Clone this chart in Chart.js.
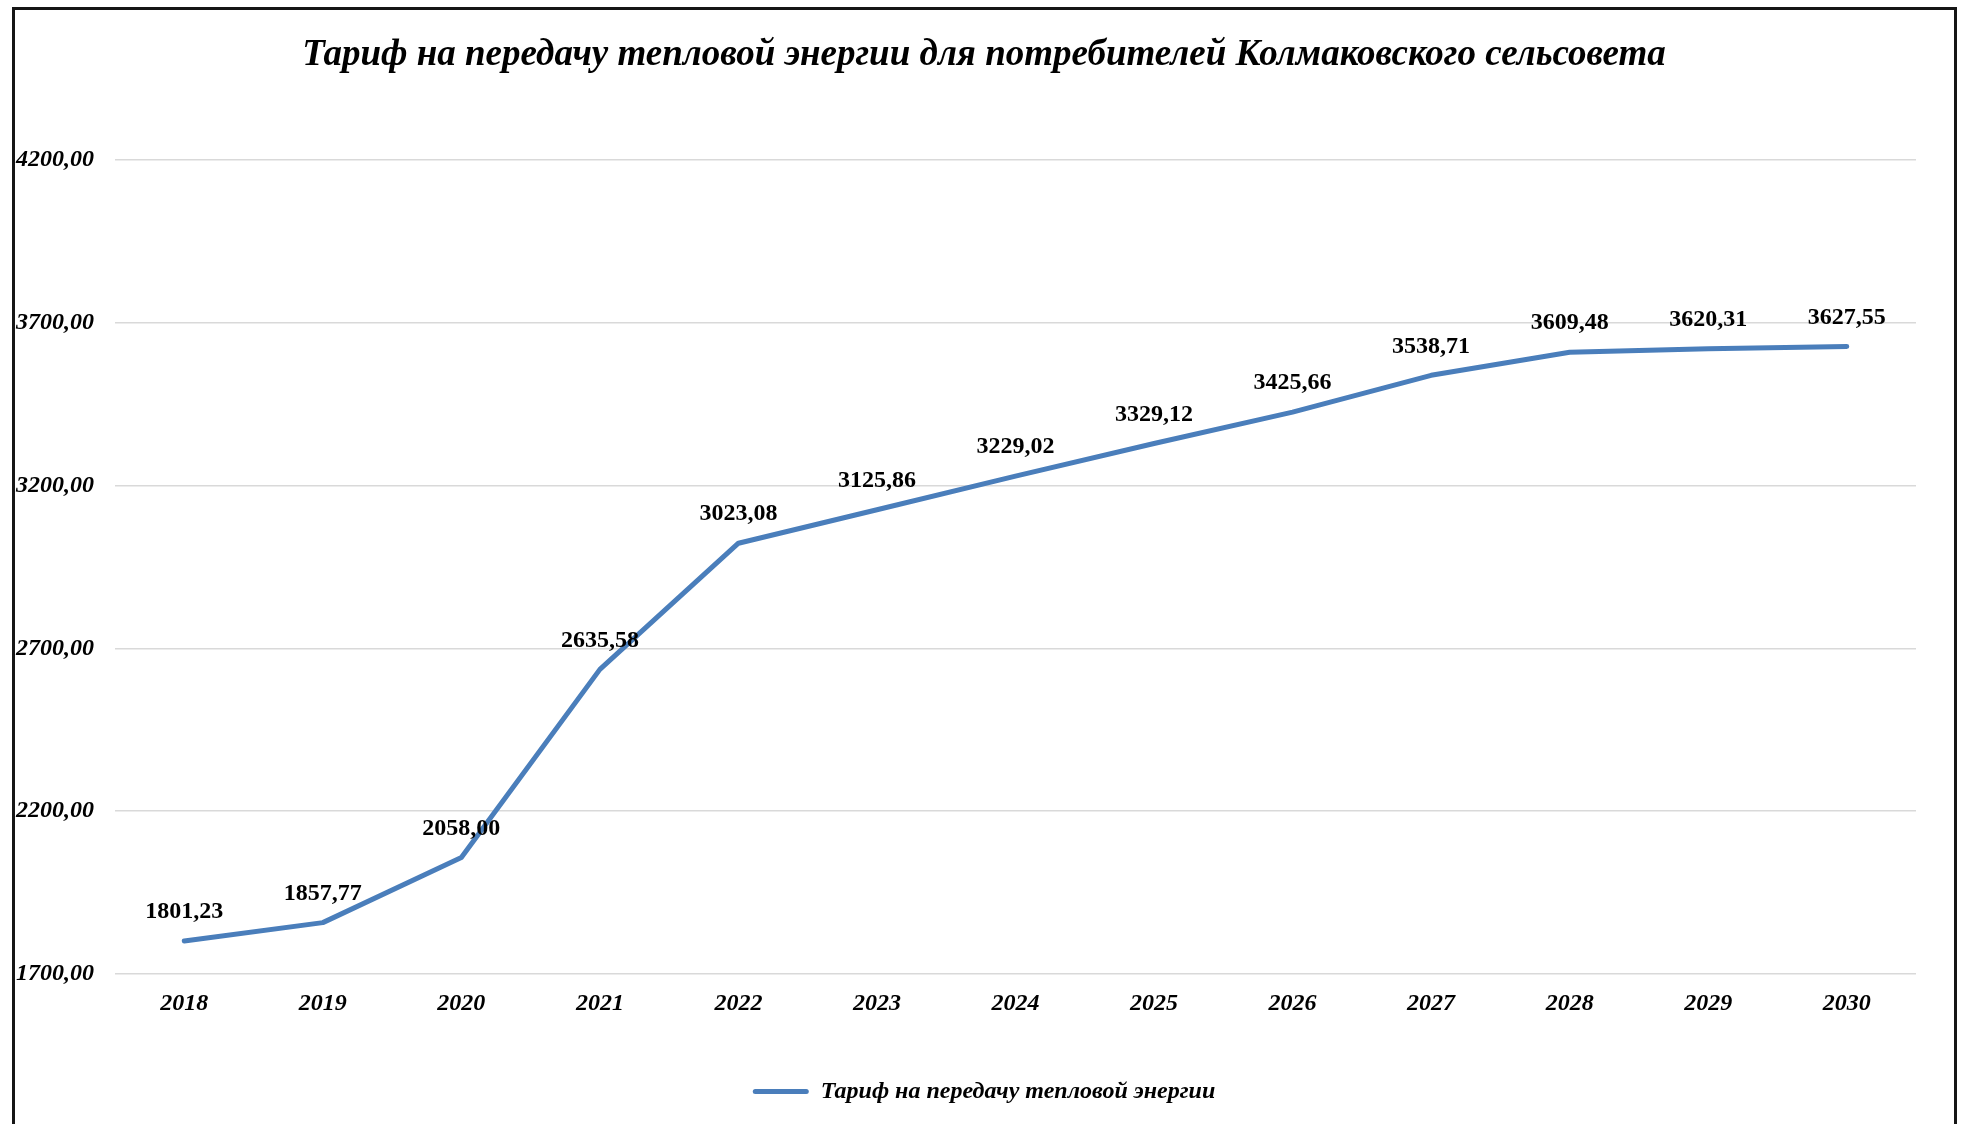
<!DOCTYPE html>
<html lang="ru">
<head>
<meta charset="utf-8">
<title>Тариф на передачу тепловой энергии</title>
<script src="https://cdn.jsdelivr.net/npm/chart.js@4.4.1/dist/chart.umd.min.js"></script>
<style>
  html, body { margin: 0; padding: 0; background: #ffffff; overflow: hidden; }
  #wrap { position: relative; width: 1962px; height: 1124px; }
  #frame { position: absolute; left: 12px; top: 7px; width: 1939px; height: 1200px;
           border: 3px solid #161616; border-bottom: none; pointer-events: none; }
  canvas { position: absolute; left: 0; top: 0; }
</style>
</head>
<body>
<div id="wrap">
  <canvas id="c" width="1962" height="1124"></canvas>
  <div id="frame"></div>
</div>
<script>
const titleText = 'Тариф на передачу тепловой энергии для потребителей Колмаковского сельсовета';
const seriesName = 'Тариф на передачу тепловой энергии';
const years = ['2018','2019','2020','2021','2022','2023','2024','2025','2026','2027','2028','2029','2030'];
const tariff = [1801.23, 1857.77, 2058.00, 2635.58, 3023.08, 3125.86, 3229.02, 3329.12, 3425.66, 3538.71, 3609.48, 3620.31, 3627.55];
const yMin = 1700;
const yMax = 4200;
const yStep = 500;

const FONT = "'Liberation Serif', 'Times New Roman', serif";
const LINE_COLOR = '#4a7ebb';

const fmt = v => Number(v).toFixed(2).replace('.', ',');

// widen the y-axis label clip box so the right-aligned tick labels are not cut
const widenYLabels = {
  id: 'widenYLabels',
  afterLayout(chart) {
    const y = chart.scales.y;
    if (y) { y.left = 12; }
  }
};

const valueLabels = {
  id: 'valueLabels',
  afterDatasetsDraw(chart) {
    const ctx = chart.ctx;
    const meta = chart.getDatasetMeta(0);
    const data = chart.data.datasets[0].data;
    ctx.save();
    ctx.font = 'bold 24px ' + FONT;
    ctx.fillStyle = '#000000';
    ctx.textAlign = 'center';
    ctx.textBaseline = 'middle';
    meta.data.forEach((pt, i) => {
      ctx.fillText(fmt(data[i]), pt.x, pt.y - 29);
    });
    ctx.restore();
  }
};

new Chart(document.getElementById('c'), {
  type: 'line',
  data: {
    labels: years,
    datasets: [{
      label: seriesName,
      data: tariff,
      borderColor: LINE_COLOR,
      backgroundColor: LINE_COLOR,
      borderWidth: 5,
      borderCapStyle: 'round',
      borderJoinStyle: 'round',
      tension: 0,
      pointRadius: 0,
      pointHoverRadius: 0,
      fill: false
    }]
  },
  options: {
    responsive: false,
    animation: false,
    devicePixelRatio: 1,
    layout: { padding: { left: 52, right: 46, top: 0, bottom: 10.5 } },
    plugins: {
      title: {
        display: true,
        text: titleText,
        color: '#000000',
        font: { family: FONT, size: 37, weight: 'bold', style: 'italic', lineHeight: 1.2 },
        padding: { top: 33, bottom: 82.6 }
      },
      legend: {
        display: true,
        position: 'bottom',
        labels: {
          color: '#000000',
          font: { family: FONT, size: 24, weight: 'bold', style: 'italic' },
          boxWidth: 56,
          boxHeight: 5,
          padding: 10,
          useBorderRadius: true,
          borderRadius: 2.5,
          generateLabels(chart) {
            return [{
              text: seriesName,
              fillStyle: LINE_COLOR,
              strokeStyle: LINE_COLOR,
              lineWidth: 0,
              borderRadius: 2.5,
              fontColor: '#000000',
              datasetIndex: 0,
              hidden: false
            }];
          }
        }
      },
      tooltip: { enabled: false }
    },
    scales: {
      x: {
        type: 'category',
        offset: true,
        grid: { display: false, drawTicks: false },
        border: { display: false },
        ticks: {
          color: '#000000',
          font: { family: FONT, size: 24, weight: 'bold', style: 'italic' },
          padding: 15,
          maxRotation: 0,
          autoSkip: false
        },
        afterFit(scale) { scale.height = 95.5; }
      },
      y: {
        min: yMin,
        max: yMax,
        grid: { color: '#d9d9d9', lineWidth: 1.5, drawTicks: false },
        border: { display: false },
        ticks: {
          stepSize: yStep,
          color: '#000000',
          font: { family: FONT, size: 24, weight: 'bold', style: 'italic' },
          padding: 21,
          crossAlign: 'near',
          callback: v => fmt(v)
        },
        afterFit(scale) { scale.width = 63; }
      }
    }
  },
  plugins: [widenYLabels, valueLabels]
});
</script>
</body>
</html>
